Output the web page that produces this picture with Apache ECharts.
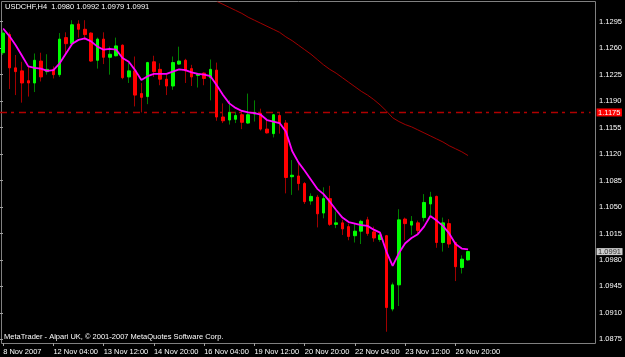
<!DOCTYPE html>
<html><head><meta charset="utf-8">
<script src="https://cdn.jsdelivr.net/npm/echarts@6/dist/echarts.min.js"></script>
<style>html,body{margin:0;padding:0;background:#000}#c{width:625px;height:357px}</style>
</head><body><div id="c"></div><script>
const symbolName = 'USDCHF';
const timeframe = 'H4';
const copyright = 'MetaTrader - Alpari UK, \u00A9 2001-2007 MetaQuotes Software Corp.';

const open = [1.1254,1.1278,1.1234,1.1230,1.1217,1.1214,1.1243,1.1229,1.1232,1.1225,
1.1274,1.1266,1.1292,1.1285,1.1280,1.1244,1.1272,1.1248,1.1250,1.1264,
1.1222,1.1230,1.1200,1.1196,1.1242,1.1232,1.1219,1.1210,1.1239,1.1244,
1.1233,1.1224,1.1227,1.1221,1.1231,1.1169,1.1165,1.1166,1.1172,1.1161,
1.1173,1.1174,1.1153,1.1147,1.1171,1.1161,1.1090,1.1091,1.1081,1.1058,
1.1063,1.1042,1.1061,1.1027,1.1029,1.1024,1.1012,1.1018,1.1033,1.1017,
1.1007,1.1012,1.0915,1.0947,1.1034,1.1026,1.1029,1.1036,1.1054,1.1064,
1.1003,1.1028,1.1003,1.0970,1.0980];
const close = [1.1280,1.1234,1.1229,1.1214,1.1214,1.1244,1.1222,1.1232,1.1225,1.1272,
1.1266,1.1291,1.1285,1.1278,1.1243,1.1272,1.1248,1.1252,1.1263,1.1221,
1.1230,1.1198,1.1195,1.1241,1.1229,1.1219,1.1210,1.1241,1.1243,1.1230,
1.1222,1.1226,1.1220,1.1232,1.1169,1.1164,1.1175,1.1171,1.1162,1.1172,
1.1175,1.1153,1.1148,1.1172,1.1161,1.1089,1.1092,1.1081,1.1057,1.1064,
1.1041,1.1061,1.1027,1.1029,1.1021,1.1011,1.1018,1.1031,1.1015,1.1009,
1.1013,1.0917,1.0947,1.1033,1.1028,1.1031,1.1019,1.1056,1.1063,1.1003,
1.1029,1.1001,1.0971,1.0981,1.0991];
const low = [1.1251,1.1206,1.1198,1.1188,1.1196,1.1202,1.1216,1.1225,1.1220,1.1222,
1.1251,1.1264,1.1274,1.1271,1.1242,1.1233,1.1239,1.1225,1.1249,1.1219,
1.1214,1.1183,1.1175,1.1186,1.1222,1.1211,1.1198,1.1205,1.1238,1.1214,
1.1210,1.1208,1.1211,1.1191,1.1164,1.1161,1.1159,1.1161,1.1153,1.1160,
1.1163,1.1151,1.1147,1.1142,1.1147,1.1068,1.1066,1.1072,1.1054,1.1053,
1.1023,1.1035,1.1025,1.1022,1.1013,1.1006,1.1003,1.1001,1.1012,1.1004,
1.1004,1.0885,1.0912,1.0919,1.1006,1.1013,1.1013,1.1031,1.1039,1.0996,
1.0991,1.0996,1.0952,1.0962,1.0979];
const high = [1.1284,1.1281,1.1251,1.1242,1.1236,1.1253,1.1254,1.1252,1.1236,1.1280,
1.1281,1.1297,1.1297,1.1297,1.1281,1.1274,1.1281,1.1262,1.1274,1.1265,
1.1241,1.1249,1.1214,1.1242,1.1250,1.1240,1.1225,1.1249,1.1262,1.1246,
1.1238,1.1227,1.1228,1.1245,1.1241,1.1187,1.1191,1.1176,1.1178,1.1200,
1.1191,1.1180,1.1165,1.1173,1.1174,1.1165,1.1112,1.1108,1.1083,1.1068,
1.1066,1.1076,1.1078,1.1044,1.1033,1.1028,1.1028,1.1033,1.1037,1.1024,
1.1015,1.1013,1.0950,1.1047,1.1036,1.1038,1.1032,1.1067,1.1070,1.1065,
1.1036,1.1034,1.1004,1.0986,1.0992];
const maFast = [1.1286,1.1276,1.1264,1.1250,1.1236,1.1234,1.1233,1.1230,1.1231,1.1240,
1.1253,1.1266,1.1271,1.1273,1.1269,1.1262,1.1258,1.1259,1.1258,1.1247,
1.1242,1.1231,1.1218,1.1223,1.1226,1.1226,1.1226,1.1229,1.1232,1.1231,
1.1228,1.1226,1.1225,1.1223,1.1211,1.1198,1.1187,1.1181,1.1177,1.1175,
1.1174,1.1172,1.1165,1.1163,1.1161,1.1150,1.1124,1.1109,1.1098,1.1086,
1.1074,1.1067,1.1057,1.1046,1.1036,1.1030,1.1028,1.1026,1.1025,1.1020,
1.1016,1.0991,1.0972,1.0989,1.1002,1.1009,1.1014,1.1024,1.1038,1.1032,
1.1025,1.1015,1.1001,1.0995,1.0994];
const maSlowStart = 34;
const maSlowValues = [1.1322,1.1318,1.1314,1.1310,1.1306,1.1301,1.1297,1.1293,1.1289,
1.1285,1.1281,1.1275,1.1270,1.1264,1.1258,1.1252,1.1245,1.1238,1.1232,
1.1227,1.1221,1.1215,1.1209,1.1203,1.1198,1.1192,1.1185,1.1177,1.1168,
1.1163,1.1159,1.1156,1.1152,1.1148,1.1144,1.1140,1.1136,1.1131,1.1127,
1.1123,1.1118];
const tickLabels = ['8 Nov 2007','12 Nov 04:00','13 Nov 12:00','14 Nov 20:00','16 Nov 04:00',
'19 Nov 12:00','20 Nov 20:00','22 Nov 04:00','23 Nov 12:00','26 Nov 20:00'];
const tickEvery = 8;
const priceTicks = [1.0875,1.0910,1.0945,1.0980,1.1015,1.1050,1.1085,1.1120,1.1155,1.1190,1.1225,1.1260,1.1295];
const hLineValue = 1.1175;
const slots = 94;

const n = open.length;
const categories = [];
for (let i = 0; i < slots; i++) categories.push(i % tickEvery === 0 && tickLabels[i / tickEvery] ? tickLabels[i / tickEvery] : '');
const wickData = open.map((o, i) => [o, close[i], low[i], high[i]]);
const bodyData = open.map((o, i) => [o, close[i], Math.min(o, close[i]), Math.max(o, close[i])]);
const maSlow = [];
for (let i = 0; i < n; i++) maSlow.push(i >= maSlowStart ? maSlowValues[i - maSlowStart] : null);
const last = n - 1;
const headText = symbolName + ',' + timeframe + '  ' + [open[last], high[last], low[last], close[last]].map(v => v.toFixed(4)).join(' ');

const FONT = 'Liberation Sans, Arial, sans-serif';
const FS = 7.5;
const showTick = (idx) => idx % tickEvery === 0 && idx / tickEvery < tickLabels.length;

const chart = echarts.init(document.getElementById('c'), null, {renderer: 'canvas'});
chart.setOption({
  animation: false,
  backgroundColor: '#000000',
  title: [
    {text: headText, left: 5, top: 2, padding: 0,
     textStyle: {color: '#ffffff', fontSize: FS, fontWeight: 'normal', fontFamily: FONT, lineHeight: 10}},
    {text: copyright, left: 4, top: 331.7, padding: 0,
     textStyle: {color: '#ffffff', fontSize: FS, fontWeight: 'normal', fontFamily: FONT, lineHeight: 10}}
  ],
  graphic: [{
    type: 'rect', z: -10, silent: true,
    shape: {x: 1.5, y: 1.5, width: 594, height: 342},
    style: {fill: 'none', stroke: '#808080', lineWidth: 1}
  }],
  grid: {left: -0.45, top: 2, width: 592.2, height: 341, containLabel: false},
  xAxis: [{
    type: 'category', data: categories, boundaryGap: true,
    axisLine: {show: false},
    axisTick: {show: true, alignWithLabel: true, interval: (i) => showTick(i), length: 3, lineStyle: {color: '#a0a0a0'}},
    axisLabel: {interval: (i) => showTick(i), color: '#ffffff', fontSize: FS, fontFamily: FONT, align: 'left', margin: 4, lineHeight: 9},
    splitLine: {show: false}
  }, {
    type: 'value', min: 0, max: 1, show: false
  }],
  yAxis: {
    type: 'value', position: 'right', offset: 3.5,
    min: 1.08701, max: 1.13211,
    axisLine: {show: false},
    axisTick: {show: true, length: 3, customValues: priceTicks, lineStyle: {color: '#a0a0a0'}},
    axisLabel: {customValues: priceTicks, formatter: (v) => v.toFixed(4), color: '#ffffff', fontSize: FS, fontFamily: FONT, margin: 5},
    splitLine: {show: false}
  },
  series: [
    {
      type: 'line', name: 'level', xAxisIndex: 1, data: [[0, hLineValue], [1, hLineValue]],
      symbol: 'none', z: 1, clip: false,
      lineStyle: {color: '#b00000', width: 1.5, type: [7, 4, 3, 5]},
      endLabel: {show: true, distance: 6, formatter: hLineValue.toFixed(4),
                 backgroundColor: '#ff0000', color: '#ffffff', fontSize: FS, fontFamily: FONT,
                 padding: [0, 1.5, 0, 1.5], lineHeight: 8}
    },
    {
      type: 'candlestick', name: 'wick', data: wickData, barWidth: 1, z: 2,
      itemStyle: {color: '#008000', color0: '#a00000', borderColor: '#008000', borderColor0: '#a00000', borderWidth: 1}
    },
    {
      type: 'candlestick', name: 'body', data: bodyData, barWidth: 3, z: 3,
      itemStyle: {color: '#00ff00', color0: '#ff0000', borderColor: '#00ff00', borderColor0: '#ff0000', borderWidth: 1}
    },
    {
      type: 'line', name: 'maSlow', data: maSlow, symbol: 'none', z: 4, clip: true,
      lineStyle: {color: '#a00000', width: 1}
    },
    {
      type: 'line', name: 'maFast', data: maFast, symbol: 'none', z: 5, clip: true,
      lineStyle: {color: '#ff00ff', width: 1.8}
    },
    {
      type: 'scatter', name: 'bid', xAxisIndex: 1, data: [[1, close[last]]], symbolSize: 0, clip: false, z: 6,
      label: {show: true, position: 'right', distance: 6, formatter: close[last].toFixed(4),
              backgroundColor: '#ffffff', color: '#000000', fontSize: FS, fontFamily: FONT,
              padding: [0, 1.5, 0, 1.5], lineHeight: 7}
    }
  ]
});
</script></body></html>
